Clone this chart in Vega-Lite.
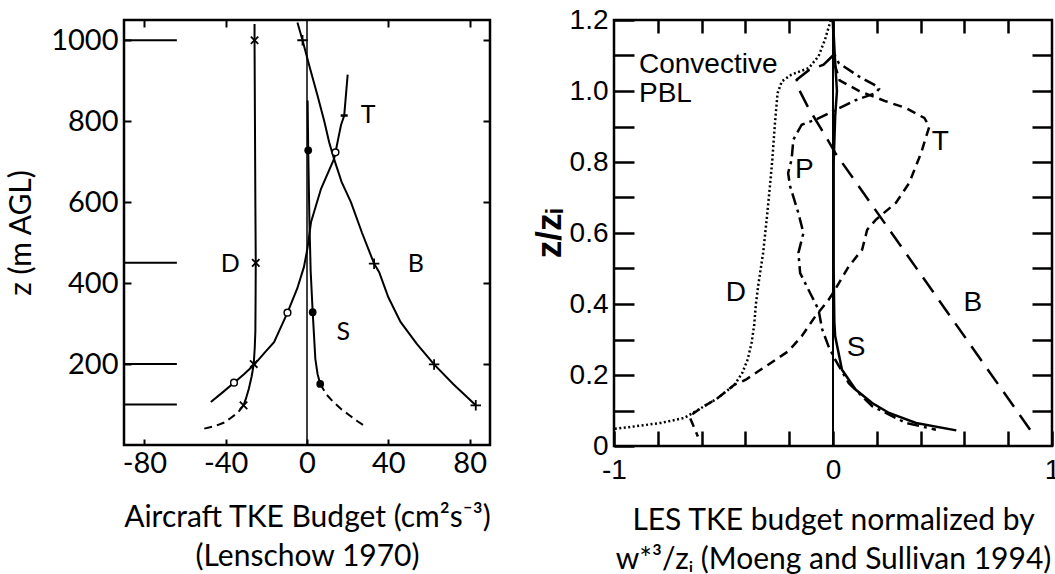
{
  "$schema": "https://vega.github.io/schema/vega-lite/v6.json",
  "background": "white",
  "padding": {"left": 5, "top": 4, "right": 0, "bottom": 0},
  "spacing": 124,
  "bounds": "flush",
  "config": {
    "view": {"stroke": "black", "strokeWidth": 2.5},
    "axis": {"grid": false, "domain": false, "tickColor": "black", "labelColor": "black", "titleColor": "black", "labelOverlap": false, "labelFlush": false, "labelBound": false}
  },
  "datasets": {
    "leftLines": [
      {"s": "zero", "x": 0, "z": 0}, {"s": "zero", "x": 0, "z": 1050},
      {"s": "D", "x": -25.8, "z": 1040}, {"s": "D", "x": -25.8, "z": 1000}, {"s": "D", "x": -25.6, "z": 800}, {"s": "D", "x": -25.4, "z": 600}, {"s": "D", "x": -25.2, "z": 450}, {"s": "D", "x": -25.3, "z": 350}, {"s": "D", "x": -25.4, "z": 280}, {"s": "D", "x": -25.7, "z": 240}, {"s": "D", "x": -26.2, "z": 200}, {"s": "D", "x": -27.2, "z": 170}, {"s": "D", "x": -28.6, "z": 139}, {"s": "D", "x": -30, "z": 115}, {"s": "D", "x": -31.2, "z": 98},
      {"s": "D2", "x": -31.2, "z": 98}, {"s": "D2", "x": -34, "z": 80}, {"s": "D2", "x": -38, "z": 65}, {"s": "D2", "x": -41, "z": 55}, {"s": "D2", "x": -44.5, "z": 48}, {"s": "D2", "x": -50.9, "z": 40},
      {"s": "T", "x": -47.3, "z": 106}, {"s": "T", "x": -41.5, "z": 130}, {"s": "T", "x": -35.9, "z": 154}, {"s": "T", "x": -31, "z": 175}, {"s": "T", "x": -26, "z": 198}, {"s": "T", "x": -20.5, "z": 230}, {"s": "T", "x": -16.2, "z": 254}, {"s": "T", "x": -12.5, "z": 295}, {"s": "T", "x": -9.6, "z": 327}, {"s": "T", "x": -4.7, "z": 388}, {"s": "T", "x": -1.5, "z": 440}, {"s": "T", "x": 0.2, "z": 485}, {"s": "T", "x": 2, "z": 551}, {"s": "T", "x": 6.9, "z": 633}, {"s": "T", "x": 13.3, "z": 707}, {"s": "T", "x": 14, "z": 723}, {"s": "T", "x": 16.7, "z": 790}, {"s": "T", "x": 18.3, "z": 814}, {"s": "T", "x": 20, "z": 915},
      {"s": "B", "x": -4.7, "z": 1044}, {"s": "B", "x": -2.2, "z": 1000}, {"s": "B", "x": 1.5, "z": 930}, {"s": "B", "x": 5.2, "z": 863}, {"s": "B", "x": 8.5, "z": 800}, {"s": "B", "x": 10.9, "z": 748}, {"s": "B", "x": 13.3, "z": 707}, {"s": "B", "x": 17, "z": 650}, {"s": "B", "x": 21.6, "z": 600}, {"s": "B", "x": 27, "z": 525}, {"s": "B", "x": 33, "z": 448}, {"s": "B", "x": 35.5, "z": 427}, {"s": "B", "x": 40, "z": 365}, {"s": "B", "x": 46, "z": 304}, {"s": "B", "x": 54, "z": 250}, {"s": "B", "x": 62.5, "z": 199}, {"s": "B", "x": 72, "z": 150}, {"s": "B", "x": 83, "z": 98},
      {"s": "S", "x": 0.3, "z": 851}, {"s": "S", "x": 0.6, "z": 728}, {"s": "S", "x": 1.2, "z": 550}, {"s": "S", "x": 1.8, "z": 430}, {"s": "S", "x": 2.8, "z": 328}, {"s": "S", "x": 4.1, "z": 213}, {"s": "S", "x": 5.2, "z": 175}, {"s": "S", "x": 6.5, "z": 151},
      {"s": "S2", "x": 6.5, "z": 151}, {"s": "S2", "x": 9.5, "z": 125}, {"s": "S2", "x": 13, "z": 106}, {"s": "S2", "x": 17, "z": 88}, {"s": "S2", "x": 21, "z": 73}, {"s": "S2", "x": 25, "z": 58}, {"s": "S2", "x": 29.4, "z": 44}
    ],
    "leftLevels": [
      {"z": 1000, "x0": -90, "x1": -64}, {"z": 450, "x0": -90, "x1": -64}, {"z": 200, "x0": -90, "x1": -64}, {"z": 100, "x0": -90, "x1": -64}
    ],
    "leftMarks": [
      {"m": "cross", "x": -25.8, "z": 1000}, {"m": "cross", "x": -25.2, "z": 450}, {"m": "cross", "x": -26.2, "z": 200}, {"m": "cross", "x": -31.2, "z": 98},
      {"m": "plus", "x": -2.2, "z": 1000}, {"m": "plus", "x": 33, "z": 448}, {"m": "plus", "x": 62.5, "z": 199}, {"m": "plus", "x": 83, "z": 98},
      {"m": "circle", "x": 14, "z": 723}, {"m": "circle", "x": -9.6, "z": 327}, {"m": "circle", "x": -35.9, "z": 154},
      {"m": "dot", "x": 0.6, "z": 728}, {"m": "dot", "x": 2.8, "z": 328}, {"m": "dot", "x": 6.5, "z": 151},
      {"m": "dash", "x": 18.3, "z": 814}
    ],
    "leftText": [
      {"t": "T", "x": 30, "z": 815}, {"t": "D", "x": -37.8, "z": 447}, {"t": "B", "x": 53.5, "z": 447}, {"t": "S", "x": 17.8, "z": 279}
    ],
    "rightLines": [
      {"s": "zero", "x": 0, "z": 0}, {"s": "zero", "x": 0, "z": 1.2},
      {"s": "D", "x": -1.0, "z": 0.048}, {"s": "D", "x": -0.909, "z": 0.055}, {"s": "D", "x": -0.786, "z": 0.065}, {"s": "D", "x": -0.679, "z": 0.079}, {"s": "D", "x": -0.602, "z": 0.107}, {"s": "D", "x": -0.526, "z": 0.135}, {"s": "D", "x": -0.449, "z": 0.173}, {"s": "D", "x": -0.415, "z": 0.205}, {"s": "D", "x": -0.39, "z": 0.243}, {"s": "D", "x": -0.372, "z": 0.29}, {"s": "D", "x": -0.36, "z": 0.34}, {"s": "D", "x": -0.352, "z": 0.4}, {"s": "D", "x": -0.342, "z": 0.45}, {"s": "D", "x": -0.319, "z": 0.544}, {"s": "D", "x": -0.303, "z": 0.637}, {"s": "D", "x": -0.288, "z": 0.732}, {"s": "D", "x": -0.277, "z": 0.807}, {"s": "D", "x": -0.265, "z": 0.91}, {"s": "D", "x": -0.253, "z": 0.994}, {"s": "D", "x": -0.234, "z": 1.027}, {"s": "D", "x": -0.19, "z": 1.046}, {"s": "D", "x": -0.11, "z": 1.065}, {"s": "D", "x": -0.066, "z": 1.098}, {"s": "D", "x": -0.037, "z": 1.144}, {"s": "D", "x": -0.01, "z": 1.2},
      {"s": "T", "x": -0.617, "z": 0.027}, {"s": "T", "x": -0.656, "z": 0.084}, {"s": "T", "x": -0.602, "z": 0.107}, {"s": "T", "x": -0.526, "z": 0.135}, {"s": "T", "x": -0.449, "z": 0.173}, {"s": "T", "x": -0.4, "z": 0.186}, {"s": "T", "x": -0.296, "z": 0.229}, {"s": "T", "x": -0.204, "z": 0.267}, {"s": "T", "x": -0.143, "z": 0.309}, {"s": "T", "x": -0.081, "z": 0.365}, {"s": "T", "x": -0.02, "z": 0.412}, {"s": "T", "x": 0.0, "z": 0.431}, {"s": "T", "x": 0.072, "z": 0.506}, {"s": "T", "x": 0.133, "z": 0.553}, {"s": "T", "x": 0.156, "z": 0.609}, {"s": "T", "x": 0.195, "z": 0.637}, {"s": "T", "x": 0.287, "z": 0.685}, {"s": "T", "x": 0.348, "z": 0.741}, {"s": "T", "x": 0.402, "z": 0.825}, {"s": "T", "x": 0.44, "z": 0.9}, {"s": "T", "x": 0.417, "z": 0.924}, {"s": "T", "x": 0.333, "z": 0.952}, {"s": "T", "x": 0.241, "z": 0.971}, {"s": "T", "x": 0.12, "z": 1.0}, {"s": "T", "x": 0.03, "z": 1.03}, {"s": "T", "x": 0.005, "z": 1.08}, {"s": "T", "x": 0.0, "z": 1.2},
      {"s": "B", "x": 0.9, "z": 0.046}, {"s": "B", "x": 0.011, "z": 0.825}, {"s": "B", "x": -0.043, "z": 0.882}, {"s": "B", "x": -0.112, "z": 0.952}, {"s": "B", "x": -0.155, "z": 1.004}, {"s": "B", "x": -0.166, "z": 1.032}, {"s": "B", "x": -0.112, "z": 1.058}, {"s": "B", "x": -0.043, "z": 1.074}, {"s": "B", "x": 0.0, "z": 1.1},
      {"s": "P", "x": 0.47, "z": 0.046}, {"s": "P", "x": 0.333, "z": 0.065}, {"s": "P", "x": 0.179, "z": 0.112}, {"s": "P", "x": 0.072, "z": 0.177}, {"s": "P", "x": 0.01, "z": 0.243}, {"s": "P", "x": -0.02, "z": 0.28}, {"s": "P", "x": -0.05, "z": 0.33}, {"s": "P", "x": -0.066, "z": 0.384}, {"s": "P", "x": -0.097, "z": 0.422}, {"s": "P", "x": -0.15, "z": 0.487}, {"s": "P", "x": -0.158, "z": 0.544}, {"s": "P", "x": -0.135, "z": 0.6}, {"s": "P", "x": -0.158, "z": 0.656}, {"s": "P", "x": -0.196, "z": 0.732}, {"s": "P", "x": -0.205, "z": 0.769}, {"s": "P", "x": -0.189, "z": 0.807}, {"s": "P", "x": -0.181, "z": 0.863}, {"s": "P", "x": -0.143, "z": 0.905}, {"s": "P", "x": -0.081, "z": 0.919}, {"s": "P", "x": 0.0, "z": 0.943}, {"s": "P", "x": 0.103, "z": 0.974}, {"s": "P", "x": 0.195, "z": 0.994}, {"s": "P", "x": 0.21, "z": 1.006}, {"s": "P", "x": 0.187, "z": 1.018}, {"s": "P", "x": 0.118, "z": 1.041}, {"s": "P", "x": 0.026, "z": 1.079}, {"s": "P", "x": 0.003, "z": 1.107}, {"s": "P", "x": 0.0, "z": 1.2},
      {"s": "S", "x": 0.563, "z": 0.044}, {"s": "S", "x": 0.379, "z": 0.065}, {"s": "S", "x": 0.256, "z": 0.093}, {"s": "S", "x": 0.179, "z": 0.121}, {"s": "S", "x": 0.103, "z": 0.159}, {"s": "S", "x": 0.041, "z": 0.215}, {"s": "S", "x": 0.01, "z": 0.309}, {"s": "S", "x": 0.006, "z": 0.35}, {"s": "S", "x": 0.003, "z": 0.5}, {"s": "S", "x": 0.003, "z": 0.8}, {"s": "S", "x": 0.01, "z": 0.93}, {"s": "S", "x": 0.018, "z": 1.0}, {"s": "S", "x": 0.008, "z": 1.1}, {"s": "S", "x": 0.0, "z": 1.2}
    ],
    "rightText": [
      {"t": "T", "x": 0.49, "z": 0.855}, {"t": "P", "x": -0.131, "z": 0.778}, {"t": "D", "x": -0.443, "z": 0.431}, {"t": "B", "x": 0.638, "z": 0.403}, {"t": "S", "x": 0.105, "z": 0.276}
    ],
    "rightNote": [
      {"t": "Convective", "x": -0.886, "z": 1.05}, {"t": "PBL", "x": -0.886, "z": 0.969}
    ]
  },
  "hconcat": [
    {
      "width": 366,
      "height": 425,
      "resolve": {"axis": {"x": "independent", "y": "independent"}},
      "layer": [
        {
          "data": {"name": "leftLines"},
          "transform": [{"filter": "datum.s == 'zero'"}],
          "mark": {"type": "line", "color": "black", "strokeWidth": 1.5, "orient": "horizontal"},
          "encoding": {
            "x": {"field": "x", "type": "quantitative", "scale": {"domain": [-90, 90], "nice": false, "zero": false},
              "axis": {"orient": "bottom", "values": [-80, -40, 0, 40, 80], "labelExpr": "datum.value + ''", "tickSize": -6, "tickWidth": 2, "labelFont": "Lato", "labelFontSize": 29, "labelPadding": 10,
                "title": ["Aircraft TKE Budget (cm²s⁻³)", "(Lenschow 1970)"], "titleFont": "Lato", "titleFontSize": 30, "titleFontWeight": "normal", "titlePadding": 24, "titleLineHeight": 39}},
            "y": {"field": "z", "type": "quantitative", "scale": {"domain": [0, 1050], "nice": false, "zero": false},
              "axis": {"orient": "left", "values": [200, 400, 600, 800, 1000], "labelExpr": "datum.value + ''", "tickSize": -7, "tickWidth": 2, "labelFont": "Lato", "labelFontSize": 29, "labelPadding": 13,
                "title": "z (m AGL)", "titleFont": "Lato", "titleFontSize": 30, "titleFontWeight": "normal", "titlePadding": 14}}
          }
        },
        {
          "data": {"name": "leftLines"},
          "transform": [{"filter": "indexof(['D','T','B','S'], datum.s) >= 0"}],
          "mark": {"type": "line", "color": "black", "strokeWidth": 2, "orient": "horizontal"},
          "encoding": {
            "x": {"field": "x", "type": "quantitative", "scale": {"domain": [-90, 90], "nice": false, "zero": false},
              "axis": {"orient": "top", "values": [-80, -40, 40, 80], "tickSize": -7, "tickWidth": 2, "labels": false, "title": null}},
            "y": {"field": "z", "type": "quantitative", "scale": {"domain": [0, 1050], "nice": false, "zero": false},
              "axis": {"orient": "right", "values": [200, 400, 600, 800, 1000], "tickSize": -7, "tickWidth": 2, "labels": false, "title": null}},
            "detail": {"field": "s"}
          }
        },
        {
          "data": {"name": "leftLines"},
          "transform": [{"filter": "datum.s == 'D2' || datum.s == 'S2'"}],
          "mark": {"type": "line", "color": "black", "strokeWidth": 2, "strokeDash": [8, 5], "orient": "horizontal"},
          "encoding": {
            "x": {"field": "x", "type": "quantitative", "scale": {"domain": [-90, 90], "nice": false, "zero": false}, "axis": null},
            "y": {"field": "z", "type": "quantitative", "scale": {"domain": [0, 1050], "nice": false, "zero": false}, "axis": null},
            "detail": {"field": "s"}
          }
        },
        {
          "data": {"name": "leftLevels"},
          "mark": {"type": "rule", "color": "black", "strokeWidth": 2},
          "encoding": {
            "x": {"field": "x0", "type": "quantitative", "scale": {"domain": [-90, 90], "nice": false, "zero": false}, "axis": null},
            "x2": {"field": "x1"},
            "y": {"field": "z", "type": "quantitative", "scale": {"domain": [0, 1050], "nice": false, "zero": false}, "axis": null}
          }
        },
        {
          "data": {"name": "leftMarks"},
          "transform": [{"filter": "datum.m == 'circle'"}],
          "mark": {"type": "point", "shape": "circle", "filled": true, "fill": "white", "stroke": "black", "strokeWidth": 1.5, "size": 45, "opacity": 1},
          "encoding": {
            "x": {"field": "x", "type": "quantitative", "scale": {"domain": [-90, 90], "nice": false, "zero": false}, "axis": null},
            "y": {"field": "z", "type": "quantitative", "scale": {"domain": [0, 1050], "nice": false, "zero": false}, "axis": null}
          }
        },
        {
          "data": {"name": "leftMarks"},
          "transform": [{"filter": "datum.m == 'dot'"}],
          "mark": {"type": "point", "shape": "circle", "filled": true, "color": "black", "size": 60, "opacity": 1},
          "encoding": {
            "x": {"field": "x", "type": "quantitative", "scale": {"domain": [-90, 90], "nice": false, "zero": false}, "axis": null},
            "y": {"field": "z", "type": "quantitative", "scale": {"domain": [0, 1050], "nice": false, "zero": false}, "axis": null}
          }
        },
        {
          "data": {"name": "leftMarks"},
          "transform": [{"filter": "datum.m == 'plus'"}],
          "mark": {"type": "point", "shape": "M-1,0L1,0M0,-1L0,1", "filled": false, "stroke": "black", "strokeWidth": 1.8, "size": 110, "opacity": 1},
          "encoding": {
            "x": {"field": "x", "type": "quantitative", "scale": {"domain": [-90, 90], "nice": false, "zero": false}, "axis": null},
            "y": {"field": "z", "type": "quantitative", "scale": {"domain": [0, 1050], "nice": false, "zero": false}, "axis": null}
          }
        },
        {
          "data": {"name": "leftMarks"},
          "transform": [{"filter": "datum.m == 'cross'"}],
          "mark": {"type": "point", "shape": "M-1,-1L1,1M-1,1L1,-1", "filled": false, "stroke": "black", "strokeWidth": 1.8, "size": 55, "opacity": 1},
          "encoding": {
            "x": {"field": "x", "type": "quantitative", "scale": {"domain": [-90, 90], "nice": false, "zero": false}, "axis": null},
            "y": {"field": "z", "type": "quantitative", "scale": {"domain": [0, 1050], "nice": false, "zero": false}, "axis": null}
          }
        },
        {
          "data": {"name": "leftMarks"},
          "transform": [{"filter": "datum.m == 'dash'"}],
          "mark": {"type": "point", "shape": "M-1,0L1,0", "filled": false, "stroke": "black", "strokeWidth": 2.5, "size": 50, "opacity": 1},
          "encoding": {
            "x": {"field": "x", "type": "quantitative", "scale": {"domain": [-90, 90], "nice": false, "zero": false}, "axis": null},
            "y": {"field": "z", "type": "quantitative", "scale": {"domain": [0, 1050], "nice": false, "zero": false}, "axis": null}
          }
        },
        {
          "data": {"name": "leftText"},
          "mark": {"type": "text", "font": "Lato", "fontSize": 25, "color": "black", "align": "center", "baseline": "middle"},
          "encoding": {
            "x": {"field": "x", "type": "quantitative", "scale": {"domain": [-90, 90], "nice": false, "zero": false}, "axis": null},
            "y": {"field": "z", "type": "quantitative", "scale": {"domain": [0, 1050], "nice": false, "zero": false}, "axis": null},
            "text": {"field": "t"}
          }
        }
      ]
    },
    {
      "width": 438,
      "height": 426,
      "resolve": {"axis": {"x": "independent", "y": "independent"}},
      "layer": [
        {
          "data": {"name": "rightLines"},
          "transform": [{"filter": "datum.s == 'zero'"}],
          "mark": {"type": "line", "color": "black", "strokeWidth": 2, "orient": "horizontal"},
          "encoding": {
            "x": {"field": "x", "type": "quantitative", "scale": {"domain": [-1, 1], "nice": false, "zero": false},
              "axis": {"orient": "bottom", "values": [-1, -0.8, -0.6, -0.4, -0.2, 0, 0.2, 0.4, 0.6, 0.8, 1],
                "labelExpr": "abs(datum.value) < 0.01 ? '0' : abs(datum.value + 1) < 0.01 ? '-1' : abs(datum.value - 1) < 0.01 ? '1' : ''",
                "tickSize": -15, "tickWidth": 2.5, "labelFont": "Liberation Sans", "labelFontSize": 28, "labelPadding": 25,
                "title": ["LES TKE budget normalized by", "w*³/zᵢ (Moeng and Sullivan 1994)"], "titleFont": "Lato", "titleFontSize": 30, "titleFontWeight": "normal", "titlePadding": 21, "titleLineHeight": 39}},
            "y": {"field": "z", "type": "quantitative", "scale": {"domain": [0, 1.2], "nice": false, "zero": false},
              "axis": {"orient": "left", "values": [0, 0.1, 0.2, 0.3, 0.4, 0.5, 0.6, 0.7, 0.8, 0.9, 1.0, 1.1, 1.2],
                "labelExpr": "round(datum.value * 10) % 2 == 0 ? (datum.value == 0 ? '0' : format(datum.value, '.1f')) : ''",
                "tickSize": -20, "tickWidth": 2.5, "labelFont": "Liberation Sans", "labelFontSize": 28, "labelPadding": 26,
                "title": "z/zᵢ", "titleFont": "Liberation Sans", "titleFontSize": 35, "titleFontWeight": "bold", "titlePadding": 2}}
          }
        },
        {
          "data": {"name": "rightLines"},
          "transform": [{"filter": "datum.s == 'S'"}],
          "mark": {"type": "line", "color": "black", "strokeWidth": 2.5, "orient": "horizontal"},
          "encoding": {
            "x": {"field": "x", "type": "quantitative", "scale": {"domain": [-1, 1], "nice": false, "zero": false},
              "axis": {"orient": "top", "values": [-0.8, -0.6, -0.4, -0.2, 0, 0.2, 0.4, 0.6, 0.8], "tickSize": -13, "tickWidth": 2.5, "labels": false, "title": null}},
            "y": {"field": "z", "type": "quantitative", "scale": {"domain": [0, 1.2], "nice": false, "zero": false},
              "axis": {"orient": "right", "values": [0.1, 0.2, 0.3, 0.4, 0.5, 0.6, 0.7, 0.8, 0.9, 1.0, 1.1], "tickSize": -20, "tickWidth": 2.5, "labels": false, "title": null}}
          }
        },
        {
          "data": {"name": "rightLines"},
          "transform": [{"filter": "datum.s == 'D'"}],
          "mark": {"type": "line", "color": "black", "strokeWidth": 2.5, "strokeDash": [2, 2.5], "orient": "horizontal"},
          "encoding": {
            "x": {"field": "x", "type": "quantitative", "scale": {"domain": [-1, 1], "nice": false, "zero": false}, "axis": null},
            "y": {"field": "z", "type": "quantitative", "scale": {"domain": [0, 1.2], "nice": false, "zero": false}, "axis": null}
          }
        },
        {
          "data": {"name": "rightLines"},
          "transform": [{"filter": "datum.s == 'T'"}],
          "mark": {"type": "line", "color": "black", "strokeWidth": 2.5, "strokeDash": [9, 6], "orient": "horizontal"},
          "encoding": {
            "x": {"field": "x", "type": "quantitative", "scale": {"domain": [-1, 1], "nice": false, "zero": false}, "axis": null},
            "y": {"field": "z", "type": "quantitative", "scale": {"domain": [0, 1.2], "nice": false, "zero": false}, "axis": null}
          }
        },
        {
          "data": {"name": "rightLines"},
          "transform": [{"filter": "datum.s == 'B'"}],
          "mark": {"type": "line", "color": "black", "strokeWidth": 2.5, "strokeDash": [18, 10], "orient": "horizontal"},
          "encoding": {
            "x": {"field": "x", "type": "quantitative", "scale": {"domain": [-1, 1], "nice": false, "zero": false}, "axis": null},
            "y": {"field": "z", "type": "quantitative", "scale": {"domain": [0, 1.2], "nice": false, "zero": false}, "axis": null}
          }
        },
        {
          "data": {"name": "rightLines"},
          "transform": [{"filter": "datum.s == 'P'"}],
          "mark": {"type": "line", "color": "black", "strokeWidth": 2.5, "strokeDash": [12, 5, 3, 5], "orient": "horizontal"},
          "encoding": {
            "x": {"field": "x", "type": "quantitative", "scale": {"domain": [-1, 1], "nice": false, "zero": false}, "axis": null},
            "y": {"field": "z", "type": "quantitative", "scale": {"domain": [0, 1.2], "nice": false, "zero": false}, "axis": null}
          }
        },
        {
          "data": {"name": "rightText"},
          "mark": {"type": "text", "font": "Liberation Sans", "fontSize": 28, "color": "black", "align": "center", "baseline": "middle"},
          "encoding": {
            "x": {"field": "x", "type": "quantitative", "scale": {"domain": [-1, 1], "nice": false, "zero": false}, "axis": null},
            "y": {"field": "z", "type": "quantitative", "scale": {"domain": [0, 1.2], "nice": false, "zero": false}, "axis": null},
            "text": {"field": "t"}
          }
        },
        {
          "data": {"name": "rightNote"},
          "mark": {"type": "text", "font": "Liberation Sans", "fontSize": 28, "color": "black", "align": "left", "baseline": "alphabetic"},
          "encoding": {
            "x": {"field": "x", "type": "quantitative", "scale": {"domain": [-1, 1], "nice": false, "zero": false}, "axis": null},
            "y": {"field": "z", "type": "quantitative", "scale": {"domain": [0, 1.2], "nice": false, "zero": false}, "axis": null},
            "text": {"field": "t"}
          }
        }
      ]
    }
  ]
}
